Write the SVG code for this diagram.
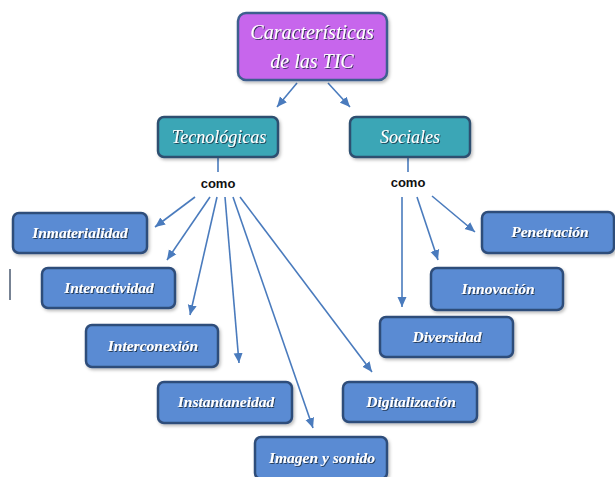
<svg xmlns="http://www.w3.org/2000/svg" width="615" height="477" viewBox="0 0 615 477">
<defs>
<marker id="ah" markerUnits="userSpaceOnUse" markerWidth="12" markerHeight="10" refX="10" refY="5" orient="auto">
<path d="M0,0.5 L10,5 L0,9.5 Z" fill="#4a7bbd"/>
</marker>
<filter id="ts" x="-10%" y="-20%" width="120%" height="140%">
<feDropShadow dx="1" dy="1" stdDeviation="0.6" flood-color="#1a2a40" flood-opacity="0.8"/>
</filter>
<filter id="bs" x="-10%" y="-10%" width="125%" height="130%">
<feDropShadow dx="1.5" dy="2" stdDeviation="1.5" flood-color="#000" flood-opacity="0.25"/>
</filter>
</defs>
<style>
.title{fill:#c766ec;stroke:#3e5e8e;stroke-width:2.5}
.cat{fill:#3aa6b6;stroke:#2d4f70;stroke-width:2.5}
.leaf{fill:#5a8bd3;stroke:#2f4d7a;stroke-width:2.5}
.t{font-family:"Liberation Serif","DejaVu Serif",serif;font-style:italic;fill:#ffffff;text-anchor:middle;filter:url(#ts)}
.lt{font-size:15.5px;font-weight:bold}
.como{font-family:"Liberation Sans","DejaVu Sans",sans-serif;font-weight:bold;font-size:13px;fill:#111;text-anchor:middle}
.c{stroke:#4a7bbd;stroke-width:1.6;fill:none}
.a{marker-end:url(#ah)}
</style>
<rect x="0" y="0" width="615" height="477" fill="#ffffff"/>
<line x1="10" y1="269" x2="10" y2="300" stroke="#4a5a70" stroke-width="1.5"/>
<g id="connectors">
<line class="c a" x1="297" y1="83" x2="277" y2="107"/>
<line class="c a" x1="328" y1="83" x2="350" y2="107"/>
<line class="c" x1="218" y1="158" x2="218" y2="172"/>
<line class="c" x1="408" y1="158" x2="408" y2="172"/>
<line class="c a" x1="195" y1="197" x2="155" y2="227"/>
<line class="c a" x1="210" y1="197" x2="167" y2="260"/>
<line class="c a" x1="217" y1="197" x2="190" y2="315"/>
<line class="c a" x1="225" y1="197" x2="239" y2="363"/>
<line class="c a" x1="233" y1="197" x2="313" y2="428"/>
<line class="c a" x1="240" y1="197" x2="372" y2="372"/>
<line class="c a" x1="402" y1="197" x2="402" y2="307"/>
<line class="c a" x1="417" y1="197" x2="438" y2="260"/>
<line class="c a" x1="432" y1="196" x2="475" y2="232"/>
</g>
<g id="n-title" filter="url(#bs)">
<rect class="title" x="238" y="13" width="149" height="67" rx="8"/>
<text class="t" x="312" y="39" font-size="20">Características</text>
<text class="t" x="312" y="68" font-size="20">de las TIC</text>
</g>
<g id="n-tecnologicas" filter="url(#bs)">
<rect class="cat" x="158" y="117" width="120" height="40" rx="6"/>
<text class="t" x="219" y="143" font-size="18">Tecnológicas</text>
</g>
<g id="n-sociales" filter="url(#bs)">
<rect class="cat" x="350" y="117" width="120" height="40" rx="6"/>
<text class="t" x="410" y="143" font-size="18">Sociales</text>
</g>
<text class="como" x="218" y="188">como</text>
<text class="como" x="408" y="187">como</text>
<g id="n-inmaterialidad" filter="url(#bs)">
<rect class="leaf" x="13" y="213" width="134" height="40" rx="6"/>
<text class="t lt" x="80" y="238">Inmaterialidad</text>
</g>
<g id="n-interactividad" filter="url(#bs)">
<rect class="leaf" x="42" y="268" width="133" height="40" rx="6"/>
<text class="t lt" x="109" y="293">Interactividad</text>
</g>
<g id="n-interconexion" filter="url(#bs)">
<rect class="leaf" x="86" y="325" width="132" height="42" rx="6"/>
<text class="t lt" x="153" y="351">Interconexión</text>
</g>
<g id="n-instantaneidad" filter="url(#bs)">
<rect class="leaf" x="158" y="382" width="134" height="41" rx="6"/>
<text class="t lt" x="226" y="407">Instantaneidad</text>
</g>
<g id="n-imagen" filter="url(#bs)">
<rect class="leaf" x="255" y="437" width="132" height="42" rx="6"/>
<text class="t lt" x="322" y="463">Imagen y sonido</text>
</g>
<g id="n-digitalizacion" filter="url(#bs)">
<rect class="leaf" x="343" y="382" width="134" height="40" rx="6"/>
<text class="t lt" x="411" y="407">Digitalización</text>
</g>
<g id="n-diversidad" filter="url(#bs)">
<rect class="leaf" x="380" y="317" width="133" height="40" rx="6"/>
<text class="t lt" x="447" y="342">Diversidad</text>
</g>
<g id="n-innovacion" filter="url(#bs)">
<rect class="leaf" x="431" y="268" width="132" height="42" rx="6"/>
<text class="t lt" x="498" y="294">Innovación</text>
</g>
<g id="n-penetracion" filter="url(#bs)">
<rect class="leaf" x="482" y="212" width="132" height="41" rx="6"/>
<text class="t lt" x="550" y="237">Penetración</text>
</g>
</svg>
